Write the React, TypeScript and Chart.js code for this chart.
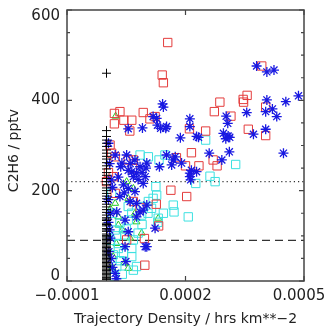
import React, { useEffect, useRef } from "react";
import { Chart, registerables } from "chart.js";

Chart.register(...registerables);

const xTicks = [-0.0001, 0.0002, 0.0005];
const xTickLabels = ["\u22120.0001", "0.0002", "0.0005"];
const yTicks = [0, 200, 400, 600];
const yTickLabels = ["0", "200", "400", "600"];
const yMinorStep = 50;
const xTitle = "Trajectory Density / hrs km**\u22122";
const yTitle = "C2H6 / pptv";
const dottedLevel = 220;
const dashedLevel = 90;

// red open squares [x, y]
const redPts: number[][] = [
  [1.55e-4, 528], [1.41e-4, 456], [1.44e-4, 439], [3.93e-4, 476], [3.46e-4, 402], [3.47e-4, 396],
  [3.56e-4, 411], [2.87e-4, 396], [2.73e-4, 375], [3.15e-4, 365], [4.03e-4, 385], [3.59e-4, 336],
  [4.03e-4, 322], [2.51e-4, 332], [2.1e-4, 337], [2.15e-4, 284], [2.0e-4, 255], [2.34e-4, 255],
  [2.7e-4, 268], [2.8e-4, 255], [2.03e-4, 187], [1.63e-4, 201], [1.77e-4, 273], [1.26e-4, 170],
  [1.32e-4, 122], [0.96e-4, 94], [0.97e-4, 35], [0.51e-4, 91], [0.2e-4, 371], [0.34e-4, 375],
  [0.2e-4, 348], [0.44e-4, 356], [0.64e-4, 356], [0.59e-4, 332], [0.93e-4, 373], [1.1e-4, 359],
  [1.23e-4, 364], [0.09e-4, 301], [0.22e-4, 275], [0.68e-4, 268], [0.66e-4, 250], [0.17e-4, 231],
  [0.22e-4, 194], [0.68e-4, 176], [0.85e-4, 162], [0.13e-4, 283], [0.55e-4, 268], [0.0e-4, 220],
  [0.05e-4, 240],
];

// blue asterisks
const bluePts: number[][] = [
  [3.8e-4, 476], [4.06e-4, 463], [4.24e-4, 467], [4.86e-4, 410], [4.54e-4, 397], [4.06e-4, 401],
  [4.03e-4, 375], [4.2e-4, 381], [4.31e-4, 364], [3.55e-4, 373], [3.72e-4, 325], [4.03e-4, 336],
  [4.48e-4, 283], [3.03e-4, 365], [3.07e-4, 349], [2.96e-4, 327], [3.08e-4, 321], [3.12e-4, 318],
  [3.02e-4, 315], [2.92e-4, 268], [3.11e-4, 286], [2.6e-4, 283], [2.28e-4, 320], [2.33e-4, 318],
  [2.11e-4, 359], [2.11e-4, 342], [1.87e-4, 317], [1.9e-4, 261], [2.11e-4, 239], [2.15e-4, 245],
  [2.13e-4, 224], [2.28e-4, 242], [1.69e-4, 268], [1.52e-4, 279], [1.65e-4, 257], [1.34e-4, 253],
  [1.42e-4, 392], [1.44e-4, 385], [1.18e-4, 364], [1.27e-4, 360], [1.29e-4, 345], [1.37e-4, 338],
  [1.5e-4, 338], [1.52e-4, 342], [0.91e-4, 339], [0.55e-4, 337], [0.05e-4, 305], [0.22e-4, 279],
  [0.51e-4, 279], [0.72e-4, 268], [1.02e-4, 261], [0.85e-4, 253], [0.39e-4, 261], [0.36e-4, 253],
  [0.64e-4, 242], [0.76e-4, 239], [0.68e-4, 231], [0.93e-4, 216], [0.43e-4, 213], [0.55e-4, 205],
  [0.72e-4, 198], [0.34e-4, 187], [0.6e-4, 176], [0.76e-4, 172], [0.26e-4, 153], [0.85e-4, 153],
  [1.02e-4, 168], [0.76e-4, 142], [0.47e-4, 135], [0.55e-4, 109], [1.23e-4, 117], [1.02e-4, 76],
  [0.47e-4, 76], [0.49e-4, 43], [0.22e-4, 17], [0.12e-4, 50], [0.08e-4, 113], [0.12e-4, 224],
  [0.15e-4, 207], [0.05e-4, 180], [0.1e-4, 150], [0.05e-4, 130], [0.1e-4, 95], [0.06e-4, 65],
  [0.15e-4, 30], [0.25e-4, 5], [0.08e-4, 260], [0.3e-4, 230], [0.45e-4, 195], [0.8e-4, 225],
  [0.9e-4, 240], [1.0e-4, 250], [0.6e-4, 260], [0.55e-4, 245], [1.74e-4, 275], [2.11e-4, 231],
  [0.98e-4, 231], [0.93e-4, 157], [0.98e-4, 76],
];

// cyan open squares
const cyanPts: number[][] = [
  [2.51e-4, 312], [3.27e-4, 258], [2.62e-4, 232], [2.75e-4, 220], [2.26e-4, 216], [2.07e-4, 142],
  [1.69e-4, 168], [1.71e-4, 153], [1.44e-4, 150], [1.31e-4, 139], [1.48e-4, 279], [1.33e-4, 268],
  [1.06e-4, 275], [0.85e-4, 279], [1.25e-4, 209], [1.27e-4, 190], [1.18e-4, 183], [1.06e-4, 176],
  [1.14e-4, 161], [0.93e-4, 165], [0.89e-4, 146], [0.64e-4, 150], [0.55e-4, 135], [0.34e-4, 128],
  [0.22e-4, 113], [0.47e-4, 102], [0.68e-4, 91], [0.3e-4, 83], [0.43e-4, 61], [0.64e-4, 54],
  [0.76e-4, 32], [0.68e-4, 24], [0.26e-4, 32], [0.17e-4, 58], [0.3e-4, 72], [0.64e-4, 72],
  [0.15e-4, 150], [0.13e-4, 194], [0.55e-4, 165], [0.8e-4, 106], [0.2e-4, 10], [0.4e-4, 15],
  [0.1e-4, 90], [0.35e-4, 45], [0.5e-4, 115], [0.25e-4, 100], [0.9e-4, 125], [1.05e-4, 150],
  [1.3e-4, 130],
];

// green open triangles
const greenPts: number[][] = [
  [0.23e-4, 365], [0.51e-4, 220], [0.68e-4, 205], [0.22e-4, 172], [0.55e-4, 183], [0.3e-4, 142],
  [0.72e-4, 150], [0.76e-4, 131], [1.31e-4, 139], [0.89e-4, 106], [0.55e-4, 28], [0.45e-4, 40],
  [0.25e-4, 83], [0.4e-4, 113], [0.17e-4, 54], [0.3e-4, 124], [0.6e-4, 95], [0.1e-4, 160],
  [0.15e-4, 30],
];

// black pluses at zero density
const blackX = 0;
const blackY: number[] = [
  460, 333, 320, 312, 305, 298, 290, 283, 276, 270, 262, 255, 248, 240, 234, 227, 220, 213, 206,
  200, 194, 188, 182, 176, 170, 164, 158, 152, 146, 140, 134, 128, 122, 116, 110, 104, 98, 92, 86,
  80, 74, 68, 62, 56, 50, 44, 38, 32, 26, 20, 14, 8, 3, 95, 83, 71, 59, 47, 35, 23, 11, 5, 17, 29,
  41, 53, 65, 77, 89, 101, 113, 125, 137,
];

const toXY = (pts: number[][]) => pts.map((p) => ({ x: p[0], y: p[1] }));

const FONT = '"DejaVu Sans", sans-serif';

const framePlugin = {
  id: "idlFrame",
  afterDraw(chart: any) {
    const { ctx, chartArea } = chart;
    const { left, right, top, bottom } = chartArea;
    const xs = chart.scales.x;
    const ys = chart.scales.y;
    ctx.save();
    ctx.strokeStyle = "#444";
    ctx.lineWidth = 1.5;
    ctx.strokeRect(left, top, right - left, bottom - top);
    ctx.lineWidth = 1.2;
    ctx.beginPath();
    xTicks.forEach((v) => {
      const px = xs.getPixelForValue(v);
      ctx.moveTo(px, bottom);
      ctx.lineTo(px, bottom - 5);
      ctx.moveTo(px, top);
      ctx.lineTo(px, top + 5);
    });
    for (let v = yTicks[0]; v <= yTicks[yTicks.length - 1]; v += yMinorStep) {
      const py = ys.getPixelForValue(v);
      const len = v % 200 === 0 ? 5 : 3;
      ctx.moveTo(left, py);
      ctx.lineTo(left + len, py);
      ctx.moveTo(right, py);
      ctx.lineTo(right - len, py);
    }
    ctx.stroke();

    ctx.fillStyle = "#222";
    ctx.font = "15px " + FONT;
    ctx.textAlign = "right";
    ctx.textBaseline = "middle";
    yTicks.forEach((v, i) => {
      let py = ys.getPixelForValue(v);
      py = Math.min(Math.max(py, top + 6), bottom - 4.5);
      ctx.fillText(yTickLabels[i], left - 7, py);
    });
    ctx.textAlign = "center";
    xTicks.forEach((v, i) => {
      let px = xs.getPixelForValue(v);
      px = Math.min(px, 299);
      ctx.fillText(xTickLabels[i], px, bottom + 15);
    });
    ctx.font = "14px " + FONT;
    ctx.fillText(xTitle, (left + right) / 2, bottom + 38);
    ctx.save();
    ctx.translate(14, (top + bottom) / 2 + 5);
    ctx.rotate(-Math.PI / 2);
    ctx.fillText(yTitle, 0, 0);
    ctx.restore();
    ctx.restore();
  },
};

export default function App() {
  const ref = useRef<HTMLCanvasElement>(null);
  useEffect(() => {
    document.body.style.margin = "0";
    const canvas = ref.current!;
    const pointDs = (label: string, data: any[], style: string, color: string, radius: number, bw = 1) => ({
      type: "scatter" as const,
      label,
      data,
      pointStyle: style,
      pointRadius: radius,
      pointBorderColor: color,
      pointBackgroundColor: "rgba(0,0,0,0)",
      pointBorderWidth: bw,
      showLine: false,
    });
    const chart = new Chart(canvas, {
      type: "scatter",
      data: {
        datasets: [
          pointDs("zero", blackY.map((y) => ({ x: blackX, y })), "cross", "#000", 4.5),
          pointDs("blue", toXY(bluePts), "star", "rgb(25,25,225)", 5, 1.3),
          pointDs("red", toXY(redPts), "rect", "rgb(228,60,60)", 5.9),
          pointDs("cyan", toXY(cyanPts), "rect", "rgb(60,225,225)", 5.9),
          pointDs("green", toXY(greenPts), "triangle", "rgb(40,200,40)", 4),
          {
            type: "line" as const,
            label: "dotted",
            data: [{ x: xTicks[0], y: dottedLevel }, { x: xTicks[2], y: dottedLevel }],
            borderColor: "#333",
            borderWidth: 1.2,
            borderDash: [1.2, 3],
            pointRadius: 0,
          },
          {
            type: "line" as const,
            label: "dashed",
            data: [{ x: xTicks[0], y: dashedLevel }, { x: xTicks[2], y: dashedLevel }],
            borderColor: "#333",
            borderWidth: 1.2,
            borderDash: [8, 5],
            pointRadius: 0,
          },
        ],
      },
      options: {
        responsive: false,
        animation: false,
        layout: { padding: { left: 0, right: 28, top: 10, bottom: 0 } },
        plugins: { legend: { display: false }, tooltip: { enabled: false } },
        scales: {
          x: {
            type: "linear",
            min: xTicks[0],
            max: xTicks[2],
            grid: { display: false },
            border: { display: false },
            ticks: { display: false },
            afterFit: (s: any) => {
              s.height = 45;
            },
          },
          y: {
            type: "linear",
            min: yTicks[0],
            max: yTicks[3],
            grid: { display: false },
            border: { display: false },
            ticks: { display: false },
            afterFit: (s: any) => {
              s.width = 67;
            },
          },
        },
      },
      plugins: [framePlugin],
    });
    return () => chart.destroy();
  }, []);
  return <canvas ref={ref} width={332} height={326} style={{ display: "block" }} />;
}
